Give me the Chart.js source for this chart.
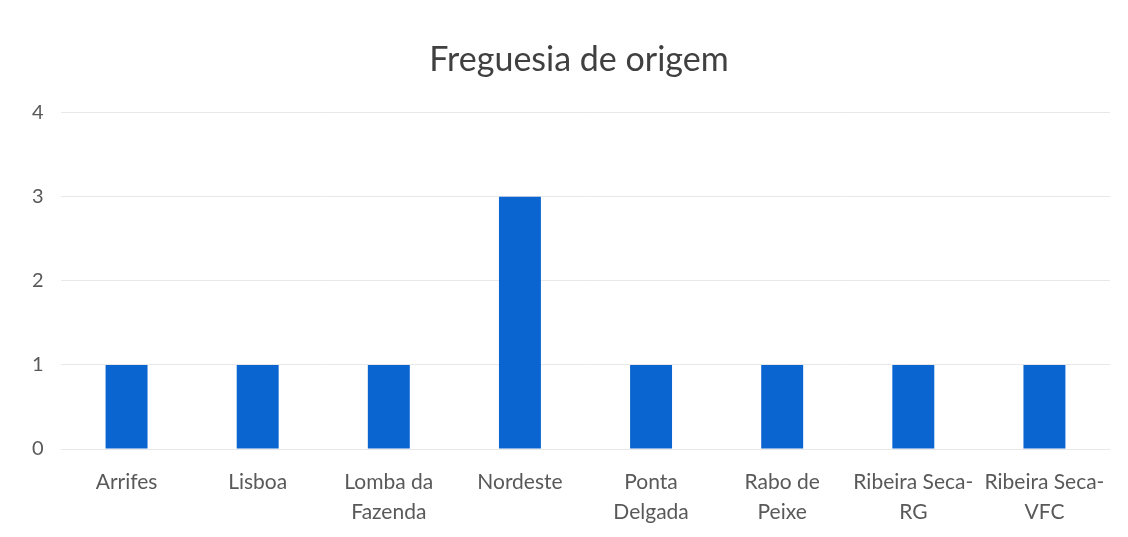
<!DOCTYPE html>
<html>
<head>
<meta charset="utf-8">
<script src="https://cdn.jsdelivr.net/npm/chart.js@4"></script>
<style>
html,body{margin:0;padding:0;background:#fff;}
#wrap{width:1128px;height:537px;}
</style>
</head>
<body>
<div id="wrap"><canvas id="c" width="1128" height="537"></canvas></div>
<script>
const categories = [
  ["Arrifes"], ["Lisboa"], ["Lomba da","Fazenda"], ["Nordeste"],
  ["Ponta","Delgada"], ["Rabo de","Peixe"], ["Ribeira Seca-","RG"], ["Ribeira Seca-","VFC"]
];
const values = [1, 1, 1, 3, 1, 1, 1, 1];
const yTicks = [0, 1, 2, 3, 4];
const titleText = "Freguesia de origem";

new Chart(document.getElementById('c'), {
  type: 'bar',
  data: {
    labels: categories,
    datasets: [{
      data: values,
      backgroundColor: '#0b65d1',
      borderWidth: 0,
      categoryPercentage: 1,
      barPercentage: 0.32
    }]
  },
  options: {
    responsive: false,
    animation: false,
    layout: { padding: { top: 20, right: 18, left: 48, bottom: 0 } },
    plugins: {
      legend: { display: false },
      tooltip: { enabled: false },
      title: {
        display: true,
        text: titleText,
        color: '#404040',
        font: { family: 'Lato', size: 34, weight: 'normal' },
        padding: { top: 20, bottom: 32 }
      }
    },
    scales: {
      x: {
        afterFit: s => { s.height = 88; },
        grid: { display: false },
        border: { display: false },
        ticks: {
          color: '#595959',
          font: { family: 'Lato', size: 21, lineHeight: 1.45 },
          autoSkip: false, maxRotation: 0, minRotation: 0, padding: 10
        }
      },
      y: {
        min: 0, max: 4,
        afterFit: s => { s.width = 13; },
        afterBuildTicks: s => { s.ticks = yTicks.map(v => ({ value: v })); },
        grid: { color: '#e8e8e8', lineWidth: 1, drawTicks: false },
        border: { display: false },
        ticks: {
          color: '#595959',
          font: { family: 'Lato', size: 20 },
          mirror: true,
          padding: -29
        }
      }
    }
  }
});
</script>
</body>
</html>
